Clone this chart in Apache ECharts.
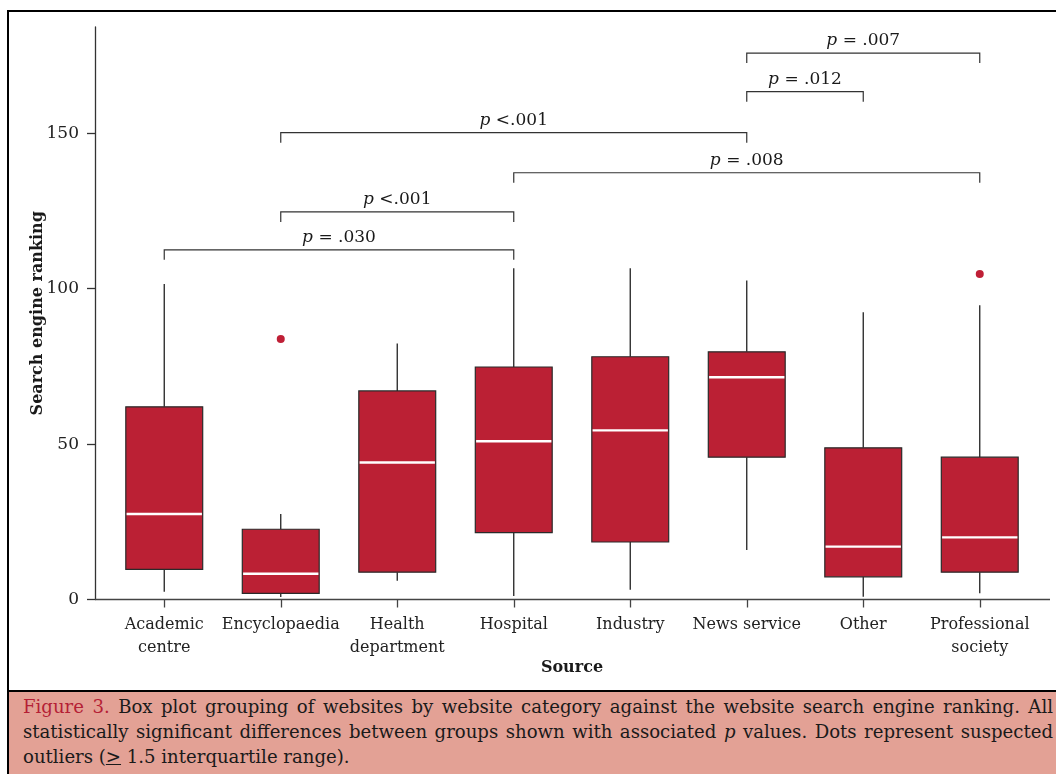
<!DOCTYPE html>
<html>
<head>
<meta charset="utf-8">
<script src="https://cdn.jsdelivr.net/npm/echarts@6/dist/echarts.min.js"></script>
<style>
  html, body { margin: 0; padding: 0; width: 1056px; height: 774px; overflow: hidden; background: #fff; }
  #chart { position: absolute; left: 0; top: 0; width: 1056px; height: 774px; }
  #frame { position: absolute; left: 7px; top: 10px; width: 1100px; height: 800px; border-left: 2px solid #000; border-top: 2px solid #000; pointer-events: none; }
  #caption { position: absolute; left: 7px; top: 690px; width: 1100px; height: 100px; background: #E3A195; border-top: 2px solid #000; border-left: 2px solid #000; }
  #captext { position: absolute; left: 14px; top: 2px; width: 1030px; font-family: "DejaVu Serif", serif; font-size: 18.1px; line-height: 25px; color: #1a1a1a; }
  .jl { text-align: justify; text-align-last: justify; white-space: nowrap; }
  .fig { color: #B51F35; }
</style>
</head>
<body>
<div id="chart"></div>
<div id="frame"></div>
<div id="caption"><div id="captext">
  <div class="jl"><span class="fig">Figure 3.</span> Box plot grouping of websites by website category against the website search engine ranking. All</div>
  <div class="jl">statistically significant differences between groups shown with associated <i>p</i> values. Dots represent suspected</div>
  <div>outliers (<u>&gt;</u> 1.5 interquartile range).</div>
</div></div>
<script>
// ---- data ----
const categories = ['Academic\ncentre', 'Encyclopaedia', 'Health\ndepartment', 'Hospital', 'Industry', 'News service', 'Other', 'Professional\nsociety'];
const whiskerLow  = [2.5, 0.8, 6.0, 1.1, 3.1, 15.9, 0.9, 2.0];
const q1          = [9.7, 2.0, 8.8, 21.5, 18.5, 45.8, 7.3, 8.8];
const median      = [27.5, 8.3, 44.1, 50.9, 54.4, 71.5, 17.0, 20.0];
const q3          = [62.0, 22.6, 67.1, 74.8, 78.1, 79.7, 48.8, 45.8];
const whiskerHigh = [101.5, 27.5, 82.4, 106.6, 106.6, 102.6, 92.4, 94.7];
const outlierCat  = [1, 7];
const outlierVal  = [83.8, 104.7];
const bracketFrom  = [0, 1, 3, 1, 5, 5];
const bracketTo    = [3, 3, 7, 5, 6, 7];
const bracketY     = [112.5, 124.7, 137.3, 150.2, 163.4, 175.8];
const bracketLabel = ['= .030', '<.001', '= .008', '<.001', '= .012', '= .007'];
const yTicks = [0, 50, 100, 150];

const SERIF = '"DejaVu Serif", serif';
const BOX_FILL = '#BB2034';

const boxData = categories.map((c, i) => [i, whiskerLow[i], q1[i], median[i], q3[i], whiskerHigh[i]]);
const outlierData = outlierCat.map((c, i) => [c, outlierVal[i]]);
const bracketData = bracketFrom.map((f, i) => [f, bracketTo[i], bracketY[i], i]);

function renderBox(params, api) {
  const x = api.value(0);
  const band = api.size([1, 0])[0];
  const w = band * 0.66;
  const pLow = api.coord([x, api.value(1)]);
  const pQ1 = api.coord([x, api.value(2)]);
  const pMed = api.coord([x, api.value(3)]);
  const pQ3 = api.coord([x, api.value(4)]);
  const pHigh = api.coord([x, api.value(5)]);
  const cx = pLow[0];
  const lineStyle = { stroke: '#222', lineWidth: 1.3 };
  return {
    type: 'group',
    children: [
      { type: 'line', shape: { x1: cx, y1: pHigh[1], x2: cx, y2: pQ3[1] }, style: lineStyle },
      { type: 'line', shape: { x1: cx, y1: pQ1[1], x2: cx, y2: pLow[1] }, style: lineStyle },
      { type: 'rect', shape: { x: cx - w / 2, y: pQ3[1], width: w, height: pQ1[1] - pQ3[1] },
        style: { fill: BOX_FILL, stroke: '#2a2a2a', lineWidth: 1.2 } },
      { type: 'line', shape: { x1: cx - w / 2 + 0.8, y1: pMed[1], x2: cx + w / 2 - 0.8, y2: pMed[1] },
        style: { stroke: '#fff', lineWidth: 2.4 } }
    ]
  };
}

function renderBracket(params, api) {
  const f = api.value(0), t = api.value(1), y = api.value(2);
  const idx = api.value(3);
  const a = api.coord([f, y]);
  const b = api.coord([t, y]);
  const drop = 10;
  return {
    type: 'group',
    children: [
      { type: 'polyline', shape: { points: [[a[0], a[1] + drop], [a[0], a[1]], [b[0], b[1]], [b[0], b[1] + drop]] },
        style: { stroke: '#333', lineWidth: 1.2, fill: null } },
      { type: 'text', style: {
          text: '{i|p} ' + bracketLabel[idx].replace('=', ' = ').replace(/\s+/g, ' ').trim(),
          x: (a[0] + b[0]) / 2, y: a[1] - 4,
          align: 'center', verticalAlign: 'bottom',
          font: '17px ' + SERIF, fill: '#1a1a1a',
          rich: { i: { fontStyle: 'italic', fontFamily: SERIF, fontSize: 17, fill: '#1a1a1a' } }
        } }
    ]
  };
}

function renderBaseLine(params, api) {
  const cs = params.coordSys;
  const yb = cs.y + cs.height;
  return { type: 'line', shape: { x1: cs.x - 11, y1: yb, x2: cs.x + cs.width + 12, y2: yb },
    style: { stroke: '#444', lineWidth: 1.3 } };
}

const chart = echarts.init(document.getElementById('chart'), null, { renderer: 'canvas' });
chart.setOption({
  backgroundColor: 'transparent',
  animation: false,
  grid: { left: 106, right: 18, top: 27, bottom: 174.5, containLabel: false },
  xAxis: {
    type: 'category',
    data: categories,
    boundaryGap: true,
    name: 'Source',
    nameLocation: 'middle',
    nameGap: 60,
    nameMoveOverlap: false,
    nameTextStyle: { fontFamily: SERIF, fontSize: 16, fontWeight: 'bold', color: '#1a1a1a', verticalAlign: 'top' },
    axisLine: { show: false },
    axisTick: { show: true, alignWithLabel: true, length: 8, lineStyle: { color: '#444', width: 1.3 } },
    axisLabel: { fontFamily: SERIF, fontSize: 16, color: '#222', margin: 14, lineHeight: 23, interval: 0 },
    splitLine: { show: false }
  },
  yAxis: {
    type: 'value',
    min: 0,
    max: 184.2,
    offset: 11,
    name: 'Search engine ranking',
    nameLocation: 'middle',
    nameGap: 49,
    nameMoveOverlap: false,
    nameTextStyle: { fontFamily: SERIF, fontSize: 16, fontWeight: 'bold', color: '#1a1a1a' },
    axisLine: { show: true, lineStyle: { color: '#333', width: 1.3 } },
    axisTick: { show: true, length: 8, customValues: yTicks, lineStyle: { color: '#333', width: 1.3 } },
    axisLabel: { fontFamily: SERIF, fontSize: 17, color: '#222', margin: 16, customValues: yTicks },
    splitLine: { show: false }
  },
  series: [
    { type: 'custom', renderItem: renderBaseLine, data: [[0, 0]], silent: true, z: 1 },
    { type: 'custom', name: 'box', renderItem: renderBox, data: boxData, encode: { x: 0, y: [1, 2, 3, 4, 5] }, z: 2 },
    { type: 'scatter', data: outlierData, symbol: 'circle', symbolSize: 8, itemStyle: { color: '#BF1F36', opacity: 1 }, z: 3 },
    { type: 'custom', name: 'brackets', renderItem: renderBracket, data: bracketData, encode: { x: [0, 1], y: 2 }, z: 2 }
  ]
});
</script>
</body>
</html>
